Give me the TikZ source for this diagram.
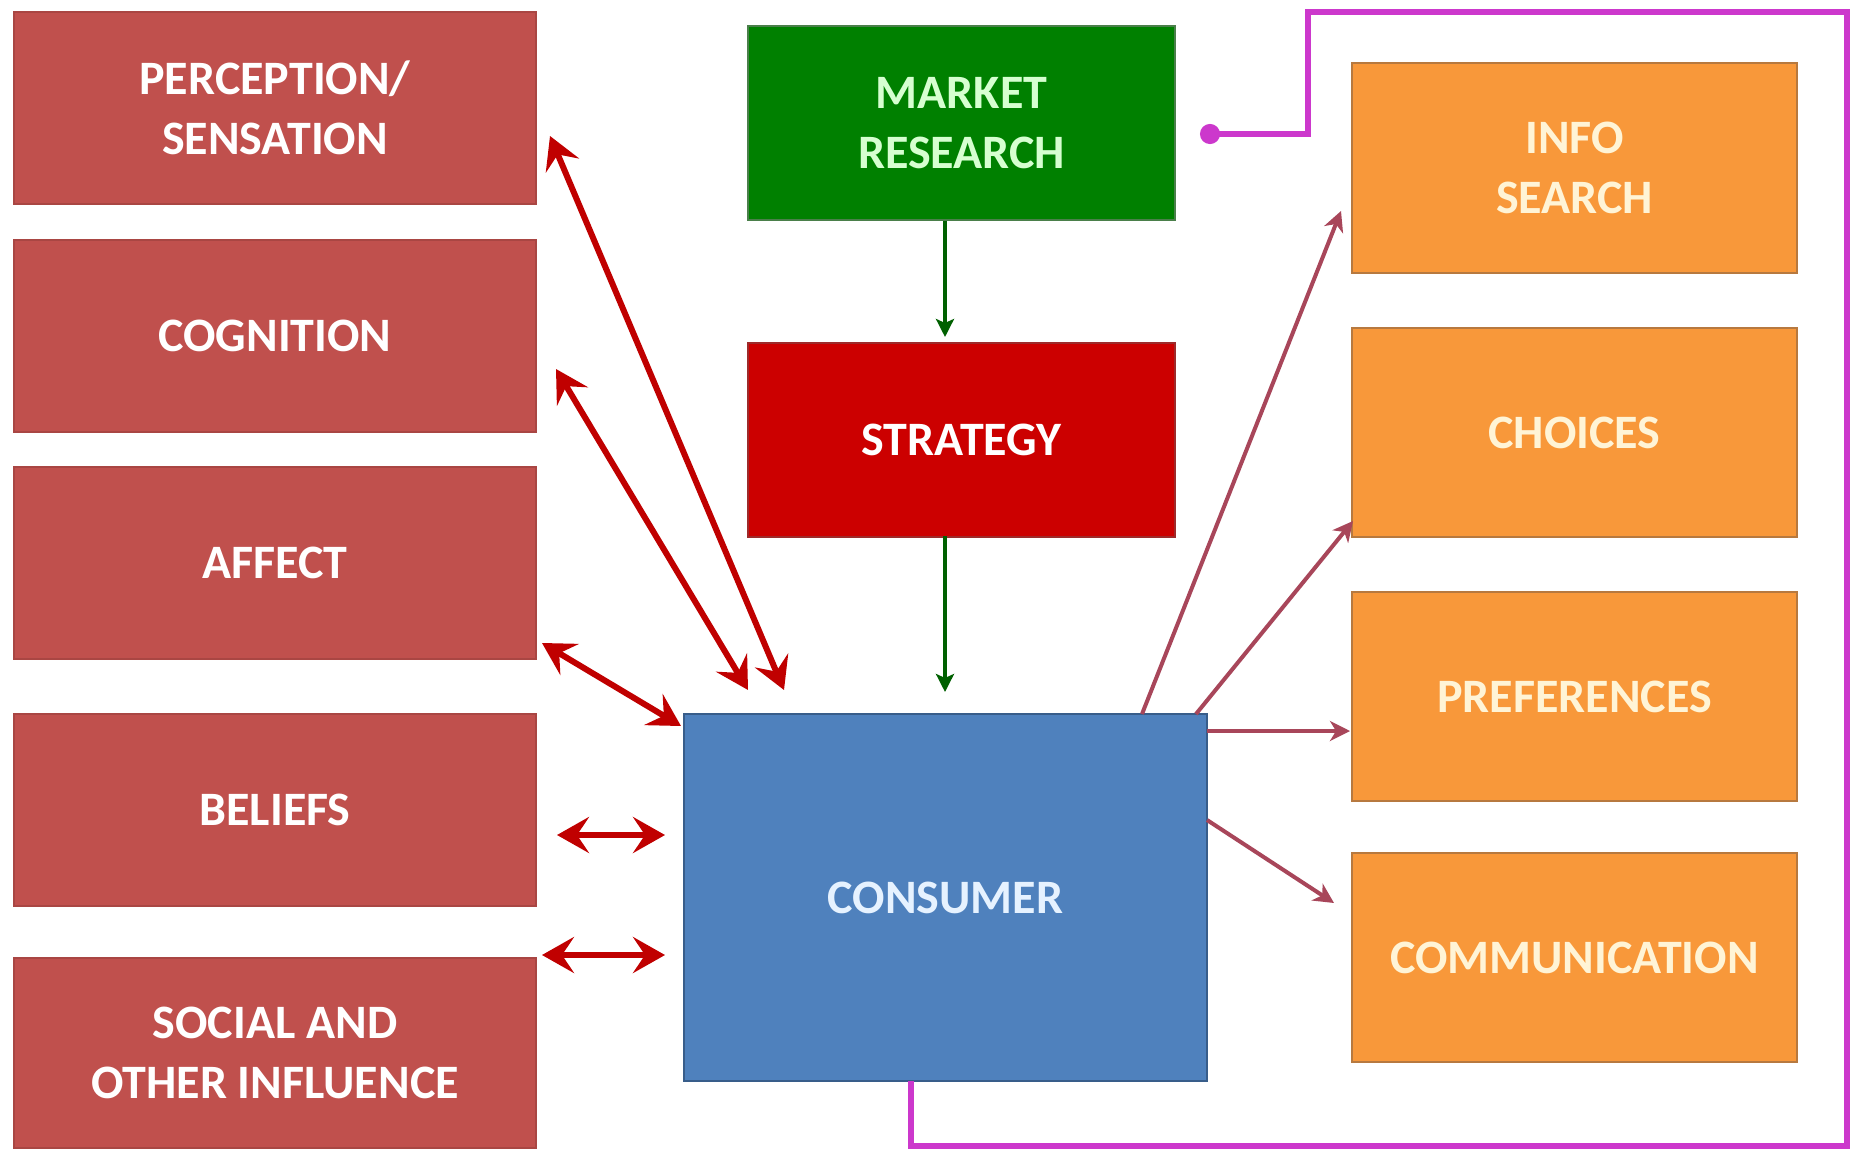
\documentclass[tikz,border=0pt]{standalone}
\usepackage{fontspec}
\setmainfont{Carlito}
\usetikzlibrary{arrows.meta,calc}
\definecolor{lred}{HTML}{C0504D}
\definecolor{lredb}{HTML}{A94643}
\definecolor{mgreen}{HTML}{008000}
\definecolor{mgreenb}{HTML}{4A7F4A}
\definecolor{sred}{HTML}{CC0000}
\definecolor{sredb}{HTML}{9E2A2A}
\definecolor{cblue}{HTML}{4F81BD}
\definecolor{cblueb}{HTML}{385D8A}
\definecolor{orng}{HTML}{F8983A}
\definecolor{orngb}{HTML}{B7793F}
\definecolor{darr}{HTML}{C00000}
\definecolor{rarr}{HTML}{A8465A}
\definecolor{mag}{HTML}{CC38CC}
\definecolor{gtext}{HTML}{D6FFD0}
\definecolor{btext}{HTML}{E6F2FF}
\definecolor{otext}{HTML}{FFF4D6}
\begin{document}
\begin{tikzpicture}[x=0.5pt,y=-0.5pt,
  box/.style={rectangle, draw, line width=1pt, inner sep=0pt, align=center,
    font=\bfseries\fontsize{24}{30}\selectfont},
  leftbox/.style={box, fill=lred, draw=lredb, text=white, minimum width=261pt, minimum height=96pt},
  midbox/.style={box, minimum width=213.5pt, minimum height=97pt},
  rightbox/.style={box, fill=orng, draw=orngb, text=otext, minimum width=222.5pt, minimum height=104.5pt},
  dbl/.style={draw=darr, line width=3pt, {Stealth[length=16pt,width=18pt,inset=6pt]}-{Stealth[length=16pt,width=18pt,inset=6pt]}},
  rout/.style={draw=rarr, line width=2pt, -{Stealth[length=10pt,width=10pt,inset=3pt]}},
  gout/.style={draw=mgreen!75!black, line width=2.4pt, -{Stealth[length=9pt,width=9pt,inset=2pt]}},
  magline/.style={draw=mag, line width=3pt, -{Circle[length=10pt]}}
]
\useasboundingbox[fill=white] (0,0) rectangle (1856,1150);

% left column
\node[leftbox] (percep) at (275,108) {PERCEPTION/\\SENSATION};
\node[leftbox] (cogn) at (275,336) {COGNITION};
\node[leftbox] (affect) at (275,563) {AFFECT};
\node[leftbox] (belief) at (275,810) {BELIEFS};
\node[leftbox, minimum height=95pt] (social) at (275,1053) {SOCIAL AND\\OTHER INFLUENCE};

% middle column
\node[midbox, fill=mgreen, draw=mgreenb, text=gtext] (market) at (961.5,123.5) {MARKET\\RESEARCH};
\node[midbox, fill=sred, draw=sredb, text=white] (strat) at (961.5,439.5) {STRATEGY};
\node[box, fill=cblue, draw=cblueb, text=btext, minimum width=261.5pt, minimum height=183.5pt] (cons) at (945.5,897.5) {CONSUMER};

% right column
\node[rightbox] (info) at (1574.5,168) {INFO\\SEARCH};
\node[rightbox] (choice) at (1574.5,432.5) {CHOICES};
\node[rightbox] (pref) at (1574.5,696.5) {PREFERENCES};
\node[rightbox] (comm) at (1574.5,957.5) {COMMUNICATION};

% left double arrows
\coordinate (p1) at (550,136); \coordinate (p2) at (784,690);
\coordinate (c1) at (556,369); \coordinate (c2) at (748,690);
\coordinate (a1) at (542,643); \coordinate (a2) at (681,726);
\coordinate (b1) at (557,835); \coordinate (b2) at (665,835);
\coordinate (s1) at (542,955); \coordinate (s2) at (665,955);
\draw[dbl] (p1) -- (p2);
\draw[dbl] (c1) -- (c2);
\draw[dbl] (a1) -- (a2);
\draw[dbl] (b1) -- (b2);
\draw[dbl] (s1) -- (s2);

% green arrows
\coordinate (g1) at (945,221); \coordinate (g2) at (945,337);
\coordinate (g3) at (945,536); \coordinate (g4) at (945,692);
\draw[gout] (g1) -- (g2);
\draw[gout] (g3) -- (g4);

% right arrows
\coordinate (r1s) at (1142,714); \coordinate (r1e) at (1341,211);
\coordinate (r2s) at (1196,714); \coordinate (r2e) at (1353,521);
\coordinate (r3s) at (1207,731); \coordinate (r3e) at (1350,731);
\coordinate (r4s) at (1207,820); \coordinate (r4e) at (1334,903);
\draw[rout] (r1s) -- (r1e);
\draw[rout] (r2s) -- (r2e);
\draw[rout] (r3s) -- (r3e);
\draw[rout] (r4s) -- (r4e);

% magenta feedback loop
\coordinate (m0) at (911,1081);
\coordinate (m5) at (1200,134);
\draw[magline] (m0) -- (911,1146) -- (1847,1146) -- (1847,12) -- (1308,12) -- (1308,134) -- (m5);
\end{tikzpicture}
\end{document}
